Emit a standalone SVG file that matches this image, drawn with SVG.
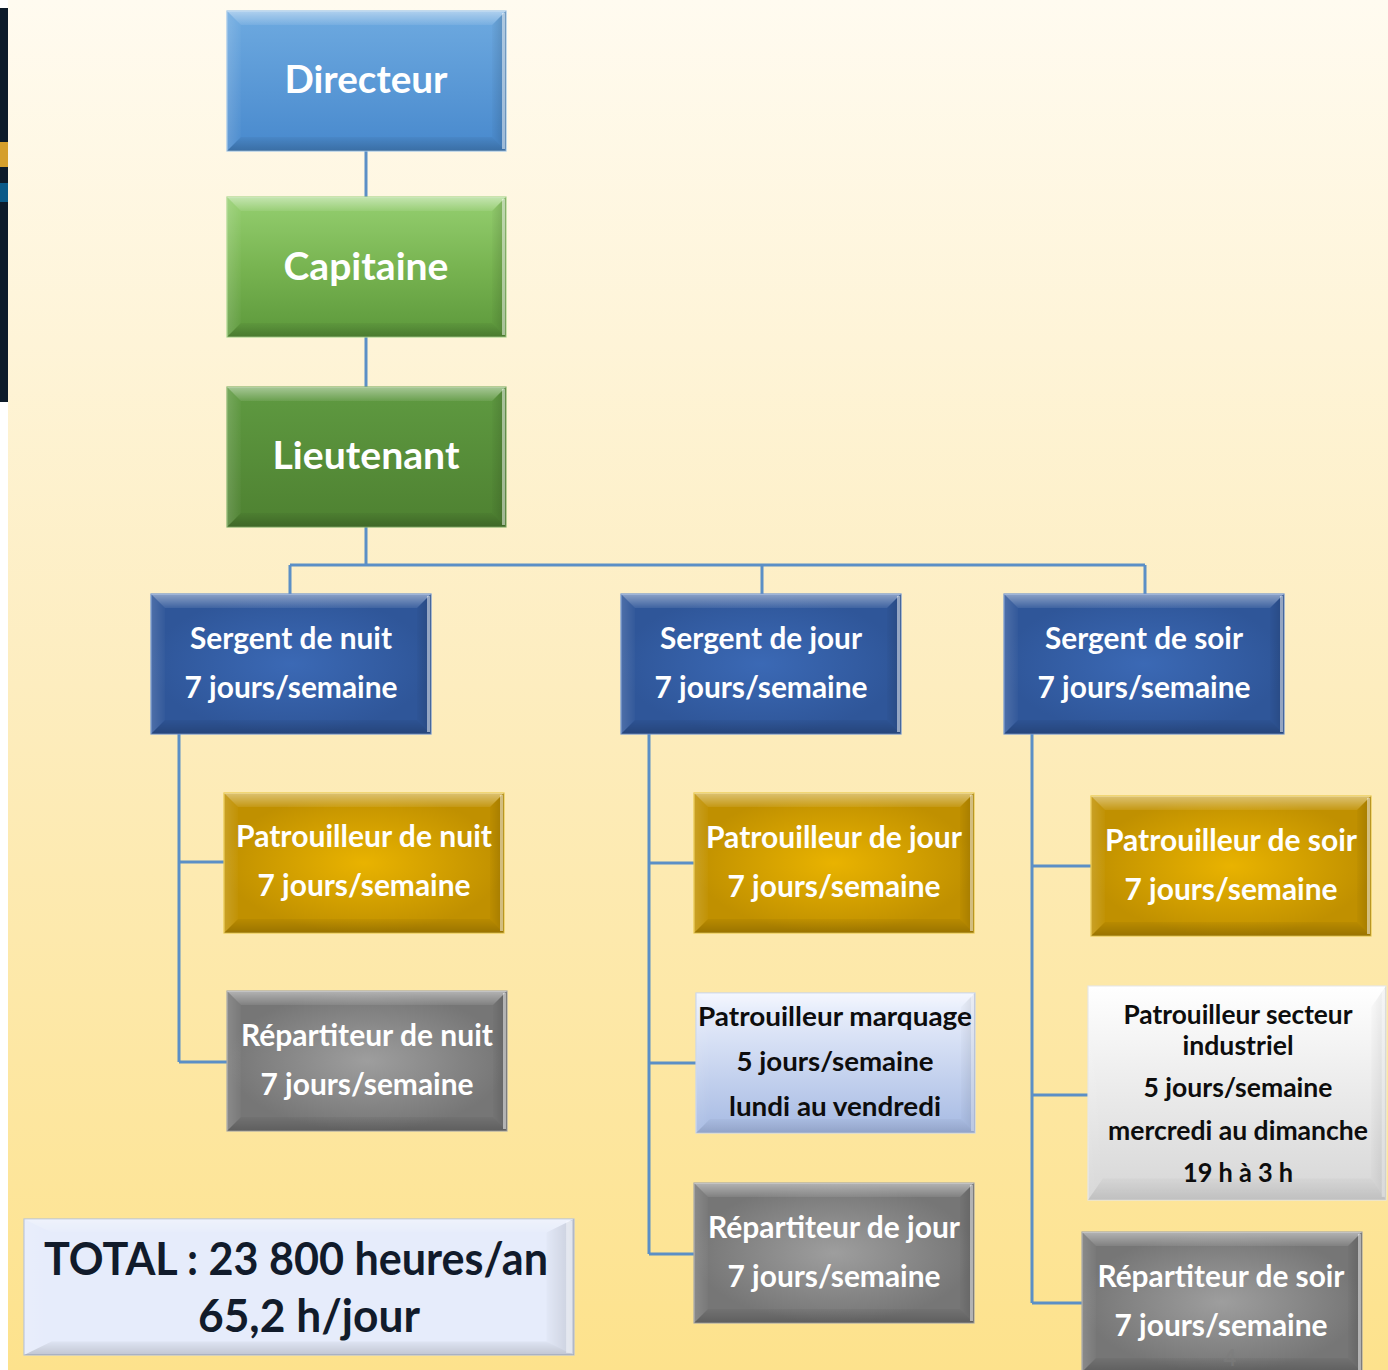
<svg xmlns="http://www.w3.org/2000/svg" xmlns:xlink="http://www.w3.org/1999/xlink" width="1388" height="1370" viewBox="0 0 1388 1370">
<defs>
<linearGradient id="bg" x1="0" y1="0" x2="0" y2="1"><stop offset="0" stop-color="#fffbf0"/><stop offset="0.5" stop-color="#fdedbf"/><stop offset="1" stop-color="#fde28c"/></linearGradient>
<linearGradient id="gDir" x1="0" y1="0" x2="0" y2="1"><stop offset="0" stop-color="#6eaae0"/><stop offset="1" stop-color="#4889cd"/></linearGradient>
<linearGradient id="gCap" x1="0" y1="0" x2="0" y2="1"><stop offset="0" stop-color="#95cf70"/><stop offset="0.5" stop-color="#78b451"/><stop offset="1" stop-color="#5c983b"/></linearGradient>
<linearGradient id="gLt" x1="0" y1="0" x2="0" y2="1"><stop offset="0" stop-color="#5f9a41"/><stop offset="1" stop-color="#4e8131"/></linearGradient>
<radialGradient id="gSgt"><stop offset="0" stop-color="#3b69b5"/><stop offset="1" stop-color="#2f5699"/></radialGradient>
<radialGradient id="gGold"><stop offset="0" stop-color="#e9b300"/><stop offset="1" stop-color="#c09000"/></radialGradient>
<radialGradient id="gGray"><stop offset="0" stop-color="#9e9e9e"/><stop offset="1" stop-color="#767676"/></radialGradient>
<linearGradient id="gMarq" x1="0" y1="0" x2="0" y2="1"><stop offset="0" stop-color="#f0f4fe"/><stop offset="1" stop-color="#a6bae3"/></linearGradient>
<linearGradient id="gInd" x1="0" y1="0" x2="0" y2="1"><stop offset="0" stop-color="#ffffff"/><stop offset="1" stop-color="#d6d6d6"/></linearGradient>
<linearGradient id="bTop" x1="0" y1="0" x2="0" y2="1"><stop offset="0" stop-color="#ffffff" stop-opacity="0.45"/><stop offset="1" stop-color="#ffffff" stop-opacity="0.08"/></linearGradient>
<linearGradient id="bBot" x1="0" y1="0" x2="0" y2="1"><stop offset="0" stop-color="#000000" stop-opacity="0.04"/><stop offset="1" stop-color="#000000" stop-opacity="0.2"/></linearGradient>
<linearGradient id="bLeft" x1="0" y1="0" x2="1" y2="0"><stop offset="0" stop-color="#ffffff" stop-opacity="0.15"/><stop offset="1" stop-color="#ffffff" stop-opacity="0.02"/></linearGradient>
<linearGradient id="bRight" x1="0" y1="0" x2="1" y2="0"><stop offset="0" stop-color="#000000" stop-opacity="0.02"/><stop offset="1" stop-color="#000000" stop-opacity="0.16"/></linearGradient>
<symbol id="bevel" viewBox="0 0 280 140" preserveAspectRatio="none">
<polygon points="0,0 280,0 266,14 14,14" fill="url(#bTop)"/>
<polygon points="0,0 14,14 14,126 0,140" fill="url(#bLeft)"/>
<polygon points="0,140 14,126 266,126 280,140" fill="url(#bBot)"/>
<polygon points="280,0 266,14 266,126 280,140" fill="url(#bRight)"/>
<rect x="276" y="2" width="3" height="136" fill="#ffffff" fill-opacity="0.5"/>
</symbol>
</defs>
<style>
.box{stroke-width:1.2}
.wt{font-family:Lato,"Liberation Sans",sans-serif;font-weight:bold;fill:#ffffff;text-anchor:middle}
.bk{font-family:Lato,"Liberation Sans",sans-serif;font-weight:bold;fill:#0d0d0d;text-anchor:middle}
.big{font-size:38px}
.med{font-size:30px}
.sm{font-size:27px}
.conn{stroke:#5b8fc6;stroke-width:3;fill:none}
</style>
<rect x="0" y="0" width="1388" height="1370" fill="#ffffff"/>
<rect x="8" y="0" width="1380" height="1370" fill="url(#bg)"/>
<rect x="0" y="8" width="8" height="394" fill="#0d1b2a"/>
<rect x="0" y="142" width="8" height="25" fill="#d59f2c"/>
<rect x="0" y="183" width="8" height="19" fill="#0b5a88"/>

<g id="connectors">
<path class="conn" d="M366,151V197M366,337V387M366,527V565M290,565H1145M290,565V594M762,565V594M1145,565V594"/>
<path class="conn" d="M179,734V1062M179,862H224M179,1062H227"/>
<path class="conn" d="M649,734V1254M649,863H694M649,1063H696M649,1254H694"/>
<path class="conn" d="M1032,734V1303M1032,866H1091M1032,1095H1088M1032,1303H1082"/>
</g>

<g id="directeur">
<rect class="box" x="227" y="11" width="279" height="140" fill="url(#gDir)" stroke="#9cc3e8"/>
<use xlink:href="#bevel" x="227" y="11" width="279" height="140"/>
<text class="wt big" x="366" y="93" textLength="163" lengthAdjust="spacingAndGlyphs">Directeur</text>
</g>
<g id="capitaine">
<rect class="box" x="227" y="197" width="279" height="140" fill="url(#gCap)" stroke="#a9d68c"/>
<use xlink:href="#bevel" x="227" y="197" width="279" height="140"/>
<text class="wt big" x="366" y="280" textLength="165" lengthAdjust="spacingAndGlyphs">Capitaine</text>
</g>
<g id="lieutenant">
<rect class="box" x="227" y="387" width="279" height="140" fill="url(#gLt)" stroke="#86b36a"/>
<use xlink:href="#bevel" x="227" y="387" width="279" height="140"/>
<text class="wt big" x="366" y="469" textLength="187" lengthAdjust="spacingAndGlyphs">Lieutenant</text>
</g>

<g id="sergent-nuit">
<rect class="box" x="151" y="594" width="280" height="140" fill="url(#gSgt)" stroke="#6f93cf"/>
<use xlink:href="#bevel" x="151" y="594" width="280" height="140"/>
<text class="wt med" x="291" y="649" textLength="202" lengthAdjust="spacingAndGlyphs">Sergent de nuit</text>
<text class="wt med" x="291" y="698" textLength="213" lengthAdjust="spacingAndGlyphs">7 jours/semaine</text>
</g>
<g id="sergent-jour">
<rect class="box" x="621" y="594" width="280" height="140" fill="url(#gSgt)" stroke="#6f93cf"/>
<use xlink:href="#bevel" x="621" y="594" width="280" height="140"/>
<text class="wt med" x="761" y="649" textLength="202" lengthAdjust="spacingAndGlyphs">Sergent de jour</text>
<text class="wt med" x="761" y="698" textLength="213" lengthAdjust="spacingAndGlyphs">7 jours/semaine</text>
</g>
<g id="sergent-soir">
<rect class="box" x="1004" y="594" width="280" height="140" fill="url(#gSgt)" stroke="#6f93cf"/>
<use xlink:href="#bevel" x="1004" y="594" width="280" height="140"/>
<text class="wt med" x="1144" y="649" textLength="198" lengthAdjust="spacingAndGlyphs">Sergent de soir</text>
<text class="wt med" x="1144" y="698" textLength="213" lengthAdjust="spacingAndGlyphs">7 jours/semaine</text>
</g>

<g id="patrouilleur-nuit">
<rect class="box" x="224" y="793" width="280" height="140" fill="url(#gGold)" stroke="#e9c84a"/>
<use xlink:href="#bevel" x="224" y="793" width="280" height="140"/>
<text class="wt med" x="364" y="847" textLength="256" lengthAdjust="spacingAndGlyphs">Patrouilleur de nuit</text>
<text class="wt med" x="364" y="896" textLength="213" lengthAdjust="spacingAndGlyphs">7 jours/semaine</text>
</g>
<g id="repartiteur-nuit">
<rect class="box" x="227" y="991" width="280" height="140" fill="url(#gGray)" stroke="#a8a8a8"/>
<use xlink:href="#bevel" x="227" y="991" width="280" height="140"/>
<text class="wt med" x="367" y="1046" textLength="252" lengthAdjust="spacingAndGlyphs">Répartiteur de nuit</text>
<text class="wt med" x="367" y="1095" textLength="213" lengthAdjust="spacingAndGlyphs">7 jours/semaine</text>
</g>

<g id="patrouilleur-jour">
<rect class="box" x="694" y="793" width="280" height="140" fill="url(#gGold)" stroke="#e9c84a"/>
<use xlink:href="#bevel" x="694" y="793" width="280" height="140"/>
<text class="wt med" x="834" y="848" textLength="256" lengthAdjust="spacingAndGlyphs">Patrouilleur de jour</text>
<text class="wt med" x="834" y="897" textLength="213" lengthAdjust="spacingAndGlyphs">7 jours/semaine</text>
</g>
<g id="patrouilleur-marquage">
<rect class="box" x="696" y="993" width="279" height="140" fill="url(#gMarq)" stroke="#c8d5ef"/>
<use xlink:href="#bevel" x="696" y="993" width="279" height="140" opacity="0.6"/>
<text class="bk sm" x="835" y="1026" textLength="274" lengthAdjust="spacingAndGlyphs">Patrouilleur marquage</text>
<text class="bk sm" x="835" y="1071" textLength="197" lengthAdjust="spacingAndGlyphs">5 jours/semaine</text>
<text class="bk sm" x="835" y="1116" textLength="212" lengthAdjust="spacingAndGlyphs">lundi au vendredi</text>
</g>
<g id="repartiteur-jour">
<rect class="box" x="694" y="1183" width="280" height="140" fill="url(#gGray)" stroke="#a8a8a8"/>
<use xlink:href="#bevel" x="694" y="1183" width="280" height="140"/>
<text class="wt med" x="834" y="1238" textLength="252" lengthAdjust="spacingAndGlyphs">Répartiteur de jour</text>
<text class="wt med" x="834" y="1287" textLength="213" lengthAdjust="spacingAndGlyphs">7 jours/semaine</text>
</g>

<g id="patrouilleur-soir">
<rect class="box" x="1091" y="796" width="280" height="140" fill="url(#gGold)" stroke="#e9c84a"/>
<use xlink:href="#bevel" x="1091" y="796" width="280" height="140"/>
<text class="wt med" x="1231" y="851" textLength="252" lengthAdjust="spacingAndGlyphs">Patrouilleur de soir</text>
<text class="wt med" x="1231" y="900" textLength="213" lengthAdjust="spacingAndGlyphs">7 jours/semaine</text>
</g>
<g id="patrouilleur-industriel">
<rect class="box" x="1088" y="986" width="298" height="214" fill="url(#gInd)" stroke="#e6e6e6"/>
<use xlink:href="#bevel" x="1088" y="986" width="298" height="214" opacity="0.5"/>
<text class="bk sm" x="1238" y="1024" textLength="229" lengthAdjust="spacingAndGlyphs">Patrouilleur secteur</text>
<text class="bk sm" x="1238" y="1055" textLength="111" lengthAdjust="spacingAndGlyphs">industriel</text>
<text class="bk sm" x="1238" y="1097" textLength="189" lengthAdjust="spacingAndGlyphs">5 jours/semaine</text>
<text class="bk sm" x="1238" y="1140" textLength="260" lengthAdjust="spacingAndGlyphs">mercredi au dimanche</text>
<text class="bk sm" x="1238" y="1182" textLength="110" lengthAdjust="spacingAndGlyphs">19 h à 3 h</text>
</g>
<g id="repartiteur-soir">
<rect class="box" x="1082" y="1232" width="280" height="140" fill="url(#gGray)" stroke="#a8a8a8"/>
<use xlink:href="#bevel" x="1082" y="1232" width="280" height="140"/>
<text class="wt med" x="1221" y="1336" textLength="213" lengthAdjust="spacingAndGlyphs">7 jours/semaine</text>
<text class="wt med" x="1221" y="1287" textLength="247" lengthAdjust="spacingAndGlyphs">Répartiteur de soir</text>
<text x="1230" y="1366" font-family="Lato,'Liberation Sans',sans-serif" font-weight="bold" font-size="22" fill="#7d7d7d" fill-opacity="0.6" text-anchor="middle">4</text>
</g>

<g id="total">
<rect class="box" x="24" y="1219" width="550" height="136" fill="#e6ecfb" stroke="#b7c3da"/>
<use xlink:href="#bevel" x="24" y="1219" width="550" height="136" opacity="0.8"/>
<text class="bk" x="296" y="1275" font-size="46" style="fill:#111b2b" textLength="504" lengthAdjust="spacingAndGlyphs">TOTAL : 23 800 heures/an</text>
<text class="bk" x="309" y="1332" font-size="46" style="fill:#111b2b" textLength="222" lengthAdjust="spacingAndGlyphs">65,2 h/jour</text>
</g>
</svg>
